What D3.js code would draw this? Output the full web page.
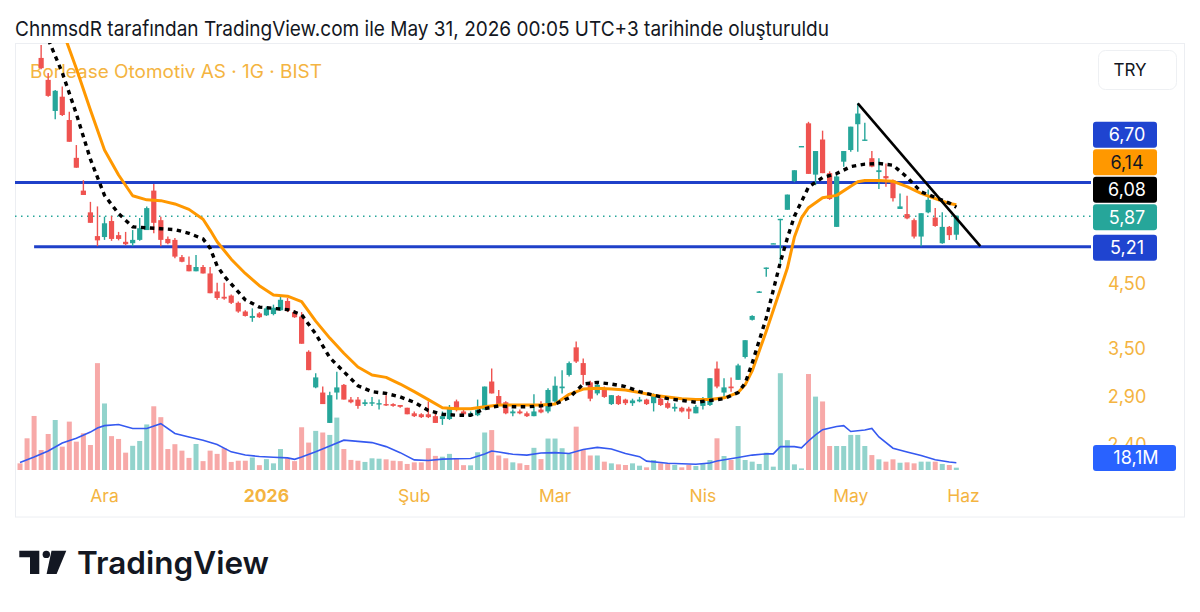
<!DOCTYPE html>
<html><head><meta charset="utf-8">
<script src="https://cdn.jsdelivr.net/npm/d3@7"></script>
<style>html,body{margin:0;padding:0;background:#fff;}svg{display:block;font-family:Inter,Roboto,"Noto Sans",sans-serif;}</style>
</head><body><svg id="c" width="1200" height="612"></svg>
<script>
// ---------- DATA ----------
const headerText = "ChnmsdR tarafından TradingView.com ile May 31, 2026 00:05 UTC+3 tarihinde oluşturuldu";
const titleText = "Borlease Otomotiv AS · 1G · BIST";
const currency = "TRY";
const firstBar = -12; // bar number of the first entry (0 = 1 Ara)
// daily candles [open, high, low, close]; null = above visible range
const ohlc = [
 null,null,null,
 [10.92,11.49,10.45,10.49],[10.02,10.29,9.38,9.41],[8.87,9.63,8.59,9.60],[9.38,9.76,8.70,8.73],
 [8.56,8.84,7.86,7.86],[7.38,7.76,7.10,7.10],[6.49,6.76,6.38,6.38],[5.96,6.21,5.72,5.72],
 [5.43,6.10,5.22,5.34],[5.41,5.86,5.35,5.71],[5.76,5.88,5.33,5.37],[5.45,5.52,5.34,5.37],
 [5.31,5.52,5.24,5.26],[5.28,5.56,5.22,5.35],[5.35,5.83,5.33,5.60],[5.56,6.10,5.56,6.06],
 [6.49,6.66,5.49,5.72],[5.78,5.86,5.22,5.35],[5.37,5.42,5.26,5.28],[5.35,5.39,4.98,5.01],
 [5.00,5.04,4.90,4.91],[4.85,5.01,4.73,4.73],[4.73,5.04,4.73,4.81],[4.81,4.85,4.69,4.69],
 [4.69,4.81,4.34,4.34],[4.37,4.52,4.23,4.26],[4.28,4.52,4.23,4.25],[4.30,4.32,4.16,4.18],
 [4.18,4.20,4.02,4.04],[4.04,4.06,3.96,3.97],[3.94,4.09,3.88,3.97],[4.01,4.03,3.94,3.95],
 [3.98,4.12,3.97,4.09],[4.00,4.15,3.98,4.10],[4.06,4.28,4.05,4.23],[4.21,4.26,4.03,4.05],
 [4.03,4.06,3.94,3.95],[3.96,4.03,3.56,3.56],[3.45,3.47,3.21,3.21],[3.00,3.17,2.99,3.12],
 [2.94,3.01,2.81,2.81],[2.61,2.95,2.61,2.91],[2.94,3.19,2.86,3.00],[3.03,3.04,2.86,2.86],
 [2.86,2.89,2.82,2.83],[2.86,2.89,2.76,2.79],[2.81,2.86,2.79,2.83],[2.82,2.89,2.79,2.83],
 [2.81,2.86,2.75,2.82],[2.81,2.91,2.79,2.80],[2.81,2.82,2.78,2.79],[2.80,2.80,2.77,2.78],
 [2.77,2.77,2.70,2.70],[2.71,2.73,2.67,2.68],[2.70,2.71,2.66,2.67],[2.70,2.84,2.66,2.67],
 [2.68,2.73,2.61,2.61],[2.65,2.73,2.59,2.68],[2.65,2.80,2.64,2.77],[2.84,2.86,2.73,2.76],
 [2.73,2.75,2.68,2.70],[2.68,2.73,2.68,2.71],[2.69,2.86,2.68,2.75],[2.75,3.01,2.75,3.01],
 [3.07,3.23,2.93,2.93],[2.90,2.97,2.80,2.81],[2.83,2.84,2.70,2.71],[2.71,2.75,2.68,2.73],
 [2.73,2.75,2.70,2.71],[2.71,2.73,2.67,2.68],[2.68,2.92,2.68,2.73],[2.75,2.84,2.71,2.72],
 [2.73,2.99,2.71,2.97],[2.84,3.13,2.82,3.02],[2.99,3.21,2.93,3.01],[3.15,3.32,3.13,3.30],
 [3.51,3.59,3.30,3.32],[3.30,3.36,3.03,3.15],[3.06,3.08,2.84,2.87],[2.93,3.07,2.91,3.03],
 [2.99,3.01,2.88,2.89],[2.81,2.91,2.80,2.91],[2.90,2.91,2.80,2.81],[2.86,2.87,2.80,2.82],
 [2.82,2.87,2.79,2.85],[2.84,2.89,2.83,2.86],[2.86,2.87,2.80,2.81],[2.82,2.93,2.73,2.90],
 [2.87,2.89,2.79,2.80],[2.82,2.84,2.76,2.77],[2.76,2.82,2.73,2.78],[2.77,2.78,2.72,2.73],
 [2.76,2.78,2.65,2.73],[2.71,2.80,2.71,2.78],[2.79,2.89,2.75,2.86],[2.80,3.11,2.79,3.11],
 [3.23,3.32,2.99,3.01],[2.94,3.11,2.87,3.00],[3.01,3.12,2.95,2.99],[3.09,3.29,3.09,3.27],
 [3.38,3.61,3.36,3.61],[3.91,3.98,3.90,3.97],[4.36,4.38,4.35,4.37],[4.79,4.80,4.63,4.80],
 [5.27,5.28,5.27,5.28],[5.78,5.81,4.87,5.81],[6.02,6.39,6.02,6.39],[6.74,7.03,6.71,7.03],
 [7.71,7.73,7.70,7.73],[8.45,8.50,6.93,6.93],[6.91,7.58,6.63,7.58],[7.93,8.21,6.95,6.95],
 [6.95,7.00,6.26,6.28],[5.63,6.91,5.63,6.86],[7.27,7.58,7.13,7.58],[7.61,8.34,7.56,8.34],
 [8.42,9.14,7.56,8.78],[7.91,8.47,7.89,7.93],[7.37,7.58,7.11,7.13],[6.98,7.37,6.53,7.03],
 [6.87,7.22,6.59,6.81],[6.76,6.78,6.22,6.30],[6.04,6.42,6.04,6.10],[5.92,6.36,5.80,5.82],
 [5.78,5.82,5.38,5.42],[5.42,5.94,5.22,5.94],[5.96,6.52,5.94,6.26],[5.84,6.06,5.63,5.65],
 [5.28,5.96,5.27,5.63],[5.63,5.65,5.35,5.45],[5.46,5.89,5.35,5.87]
];
// volume in millions, same bars
const volume = [
 16.5,78.6,134,49.6,89.3,124,57.9,120,70.3,91,62,265,
 165,84,77,43,60,72,113,158,131,52,64,48,30,64.5,22,48,40,54,20,23,23,31,12,27,16.5,52,29,22,
 106,68,97,93,87,130,52,25,23,20,29,28,26.5,23,22,15,19,19,54,35,33,40,28,12,11.6,44,93,99,
 36,29,19,16.5,12.4,55,27,78,78,54,40,107.5,50,36,36,20.7,16.5,14,12.4,16.5,10.7,6.6,24.8,
 16.5,15,12.4,6.6,12.4,10,15,24.8,78.6,34.7,24.8,109,24.8,20.7,15,43,8.3,240,74,14,4,238,
 182,170,59.5,59.5,59.5,87,87,59.5,37,26.5,20.7,26.5,18,19,16.5,20.7,20.7,20.7,15,12.4,5.8
];
// moving averages: [bar number, value]
const maFast = [[-9,12.5],[-8,11.75],[-6,10.31],[-4,8.77],[-2,7.34],[0,6.37],[2,5.93],[4,5.63],[6,5.61],[8,5.59],[10,5.57],[12,5.49],[14,5.37],[15,5.18],[16,4.83],[17,4.64],[18,4.50],[20,4.23],[22,4.11],[24,4.09],[26,4.07],[28,3.99],[30,3.70],[32,3.37],[34,3.19],[36,3.02],[38,2.95],[40,2.93],[42,2.89],[44,2.83],[46,2.74],[48,2.70],[50,2.69],[52,2.69],[54,2.76],[56,2.79],[58,2.78],[60,2.78],[62,2.79],[64,2.81],[66,2.88],[68,3.04],[70,3.06],[72,3.04],[74,3.01],[76,2.95],[78,2.91],[80,2.87],[82,2.85],[84,2.83],[86,2.85],[88,2.87],[90,2.94],[91,3.05],[92,3.30],[94,3.94],[96,4.90],[97,5.39],[98,5.87],[100,6.58],[102,6.83],[104,6.94],[106,7.13],[108,7.20],[110,7.22],[112,7.17],[114,6.84],[116,6.46],[118,6.32],[120,6.18],[121,6.08]];
const maSlow = [[-6,12.2],[-4,10.48],[-2,8.90],[0,7.61],[2,6.90],[4,6.36],[6,6.26],[8,6.24],[10,6.16],[12,6.03],[14,5.80],[15,5.56],[16,5.31],[18,4.96],[20,4.69],[22,4.47],[24,4.31],[26,4.29],[28,4.20],[30,3.89],[32,3.64],[34,3.43],[36,3.25],[38,3.15],[40,3.12],[42,3.04],[44,2.95],[46,2.86],[48,2.77],[50,2.76],[52,2.76],[54,2.78],[56,2.80],[58,2.80],[60,2.80],[62,2.80],[64,2.81],[66,2.92],[68,2.98],[70,2.99],[72,2.98],[74,2.97],[76,2.94],[78,2.91],[80,2.89],[82,2.87],[84,2.86],[86,2.86],[88,2.88],[90,2.94],[91,3.03],[92,3.20],[94,3.74],[96,4.41],[97,4.79],[98,5.41],[99,5.83],[100,6.07],[102,6.31],[104,6.37],[106,6.60],[107,6.72],[108,6.75],[110,6.75],[112,6.73],[114,6.59],[116,6.42],[118,6.29],[120,6.17],[121,6.14]];
const volMA = [[-12,18.6],[-10,32],[-8,47],[-6,67],[-4,79],[-2,94],[-1,104],[0,110],[2,113],[4,103],[6,103],[8,115],[10,90.5],[12,82],[14,74],[16,63],[18,45],[20,37],[22,33.5],[24,31.5],[26,30],[27,26.5],[28,32],[30,45],[32,59.5],[34,74],[36,71],[38,68],[40,58],[42,43],[44,25],[46,23.5],[48,27],[50,28],[52,28.5],[54,39.7],[55,47],[56,44.6],[58,39],[60,37],[62,42],[64,43],[66,41],[68,51],[70,56],[72,52],[74,41],[76,33],[77,22],[80,16.6],[84,14.4],[86,17.4],[87,22.3],[90,31],[92,37],[94,40],[95,40],[96,58],[98,58],[99,55],[100,72],[101,87],[102,100],[104,108],[105,110],[106,95.5],[108,99],[109,103],[110,82],[112,54],[114,44.6],[116,36],[118,25.3],[120,19.8],[121,18.1]];
const hLevels = [6.70, 5.21];
const hLevelStart = [null, -10]; // bar where each level starts (null = left edge)
const trendLine = [[107, 9.14], [124.4, 5.22]];
const priceTicks = [4.50, 3.50, 2.90, 2.40];
const xTickLabels = ["Ara", "2026", "Şub", "Mar", "Nis", "May", "Haz"];
const xTickBars = [0, 23, 44, 64, 85, 106, 122];
const volLabel = "18,1M";

// ---------- SCALES ----------
const svg = d3.select('#c');
const UP = '#26a69a', DN = '#ef5350', UPV = '#92d3cc', DNV = '#f7a9a8', ACC = '#F4B441';
const plot = {l: 15, t: 43, r: 1091, b: 517};
const x = d3.scaleLinear().domain([0, 122]).range([104.5, 104.5 + 122 * 7.04]);
const y = d3.scaleLog().domain([2.4, 4.5]).range([444.3, 284]);
const yv = d3.scaleLinear().domain([0, 100]).range([470, 470 - 100 / 2.48]);
const fmt = v => d3.format('.2f')(v).replace('.', ',');

svg.append('rect').attr('width', 1200).attr('height', 612).attr('fill', '#fff');
const defs = svg.append('defs');
defs.append('clipPath').attr('id', 'pc').append('rect')
  .attr('x', plot.l).attr('y', plot.t).attr('width', plot.r - plot.l).attr('height', plot.b - plot.t);

// frame
svg.append('rect').attr('x', 15.5).attr('y', 43.5).attr('width', 1169).attr('height', 473.5)
  .attr('fill', 'none').attr('stroke', '#eceef2').attr('stroke-width', 1);

svg.append('text').attr('x', 15).attr('y', 36).attr('font-size', 20.5).attr('fill', '#131722')
  .attr('textLength', 814).attr('lengthAdjust', 'spacingAndGlyphs').text(headerText);

const g = svg.append('g').attr('clip-path', 'url(#pc)');
g.append('text').attr('x', 30).attr('y', 78).attr('font-size', 18.3).attr('fill', ACC)
  .attr('textLength', 292).attr('lengthAdjust', 'spacingAndGlyphs').text(titleText);

const bars = ohlc.map((d, k) => ({i: k + firstBar, d, v: volume[k]}));
// volume
g.selectAll('.vb').data(bars).join('rect')
  .attr('x', b => x(b.i) - 2.5).attr('width', 5)
  .attr('y', b => yv(b.v)).attr('height', b => yv(0) - yv(b.v))
  .attr('fill', b => (b.d && b.d[3] < b.d[0]) ? DNV : (b.d ? UPV : DNV));
const lineV = d3.line().x(d => x(d[0])).y(d => yv(d[1]));
g.append('path').attr('d', lineV(volMA)).attr('fill', 'none').attr('stroke', '#3559f0').attr('stroke-width', 1.6);

// horizontal levels
hLevels.forEach((v, k) => {
  g.append('line').attr('x1', hLevelStart[k] == null ? plot.l : x(hLevelStart[k])).attr('x2', plot.r)
    .attr('y1', y(v)).attr('y2', y(v)).attr('stroke', '#1f40c9').attr('stroke-width', 3);
});
const lastClose = ohlc[ohlc.length - 1][3];
g.append('line').attr('x1', plot.l).attr('x2', plot.r).attr('y1', y(lastClose)).attr('y2', y(lastClose))
  .attr('stroke', UP).attr('stroke-width', 1.5).attr('stroke-dasharray', '1.5 4.5');

// candles
const cd = bars.filter(b => b.d);
g.selectAll('.wk').data(cd).join('line')
  .attr('x1', b => x(b.i)).attr('x2', b => x(b.i))
  .attr('y1', b => y(b.d[1])).attr('y2', b => y(b.d[2]))
  .attr('stroke', b => b.d[3] >= b.d[0] ? UP : DN).attr('stroke-width', 1.4);
g.selectAll('.bd').data(cd).join('rect')
  .attr('x', b => x(b.i) - 2.6).attr('width', 5.2)
  .attr('y', b => Math.min(y(b.d[0]), y(b.d[3])))
  .attr('height', b => Math.max(1.4, Math.abs(y(b.d[0]) - y(b.d[3]))))
  .attr('fill', b => b.d[3] >= b.d[0] ? UP : DN);

// MAs
const lineP = d3.line().x(d => x(d[0])).y(d => y(d[1]));
g.append('path').attr('d', lineP(maSlow)).attr('fill', 'none').attr('stroke', '#FF9800')
  .attr('stroke-width', 3).attr('stroke-linejoin', 'round');
g.append('path').attr('d', lineP(maFast)).attr('fill', 'none').attr('stroke', '#000')
  .attr('stroke-width', 3.4).attr('stroke-dasharray', '4.5 4.5').attr('stroke-linecap', 'butt');
// trend line
g.append('path').attr('d', lineP(trendLine)).attr('fill', 'none').attr('stroke', '#000').attr('stroke-width', 2.6);

// x axis labels
svg.selectAll('.xl').data(xTickLabels).join('text')
  .attr('x', (t, k) => x(xTickBars[k])).attr('y', 501.5).attr('text-anchor', 'middle')
  .attr('font-size', 17.5).attr('fill', ACC).attr('font-weight', t => t === '2026' ? 700 : 400).text(t => t);

// volume MA label position (the lowest price tick sits partly under it, as in the source)
const vcy = Math.min(yv(volMA[volMA.length - 1][1]), 458);
defs.append('clipPath').attr('id', 'tc').append('rect').attr('x', 1040).attr('y', 0).attr('width', 160).attr('height', vcy - 13);

// price ticks
svg.selectAll('.pt').data(priceTicks).join('text')
  .attr('x', 1127).attr('y', v => y(v)).attr('dy', '0.36em').attr('text-anchor', 'middle')
  .attr('font-size', 18).attr('fill', ACC)
  .attr('clip-path', v => (y(v) + 8 > vcy - 13) ? 'url(#tc)' : null).text(fmt);

// TRY box
svg.append('rect').attr('x', 1098.5).attr('y', 50.5).attr('width', 78).attr('height', 39).attr('rx', 7)
  .attr('fill', '#fff').attr('stroke', '#eef0f3');
svg.append('text').attr('x', 1130).attr('y', 70).attr('dy', '0.36em').attr('text-anchor', 'middle')
  .attr('font-size', 17).attr('fill', '#131722').text(currency);

// right-side value labels with overlap resolution
const labels = [
  {v: hLevels[0], fill: '#1f44d0', tc: '#fff'},
  {v: maSlow[maSlow.length - 1][1], fill: '#FF9800', tc: '#131722'},
  {v: maFast[maFast.length - 1][1], fill: '#000', tc: '#fff'},
  {v: lastClose, fill: UP, tc: '#fff'},
  {v: hLevels[1], fill: '#1f44d0', tc: '#fff'}
].map(l => ({...l, cy: y(l.v) + 1}));
labels.sort((a, b) => b.cy - a.cy);
let prev = Infinity;
labels.forEach(l => { l.cy = Math.min(l.cy, prev - 27.5); prev = l.cy; });
const lg = svg.selectAll('.lb').data(labels).join('g');
lg.append('rect').attr('x', 1093).attr('y', l => l.cy - 13).attr('width', 64).attr('height', 26).attr('rx', 3)
  .attr('fill', l => l.fill);
lg.append('text').attr('x', 1127).attr('y', l => l.cy).attr('dy', '0.36em').attr('text-anchor', 'middle')
  .attr('font-size', 18).attr('fill', l => l.tc).text(l => fmt(l.v));

// volume MA label
svg.append('rect').attr('x', 1093).attr('y', vcy - 13).attr('width', 83).attr('height', 26).attr('rx', 3).attr('fill', '#2962FF');
svg.append('text').attr('x', 1136).attr('y', vcy).attr('dy', '0.36em').attr('text-anchor', 'middle')
  .attr('font-size', 18).attr('fill', '#fff').text(volLabel);

// TradingView logo
const lgo = svg.append('g').attr('fill', '#131722');
lgo.append('path').attr('d', 'M19.3,550.7H39.3V574H30V557.3H19.3Z');
lgo.append('circle').attr('cx', 46.3).attr('cy', 554.4).attr('r', 3.7);
lgo.append('path').attr('d', 'M51.5,550.7H66.3L56.6,574H46.6Z');
svg.append('text').attr('x', 77).attr('y', 574).attr('font-size', 31.5).attr('font-weight', 600)
  .attr('fill', '#131722').attr('textLength', 192).attr('lengthAdjust', 'spacingAndGlyphs').text('TradingView');
</script></body></html>
